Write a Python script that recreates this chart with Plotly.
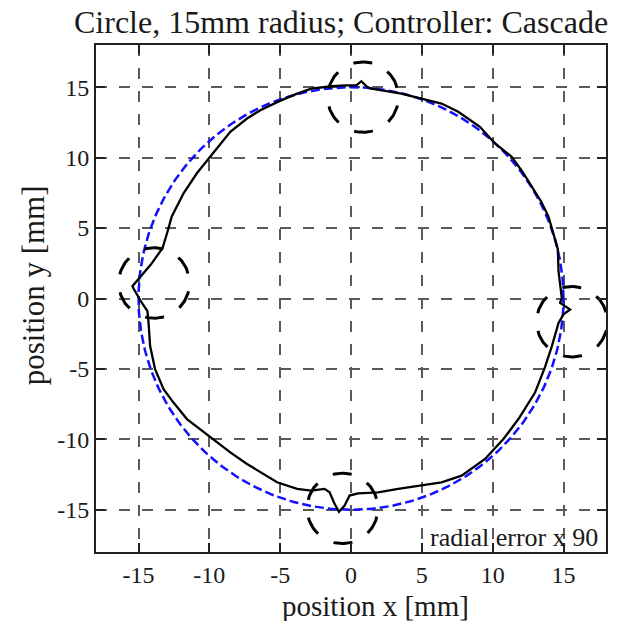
import numpy as np
import plotly.graph_objects as go

# ---- data ----
ref_radius = 15.0

traj_x = [14.88, 14.76, 14.65, 14.6, 14.25, 13.94, 13.42, 12.76, 12.1, 11.34, 10.16, 9.1, 7.57, 6.39,
          4.98, 3.56, 2.4, 1.44, 1.15, 0.73, 0.38, -0.33, -1.39, -2.8, -3.8, -5.02, -6.4, -7.34,
          -8.52, -9.94, -10.88, -11.82, -12.65, -12.95, -13.3, -14.13, -15.07, -15.43, -15.31,
          -14.84, -14.37, -14.3, -14.18, -13.83, -13.23, -12.53, -11.58, -9.7, -8.52, -7.34,
          -6.16, -5.22, -3.8, -2.81, -1.87, -1.51, -1.16, -0.85, -0.45, -0.1, 0.5, 1.91, 3.33,
          4.98, 6.39, 7.81, 9.46, 10.76, 11.82, 12.99, 13.7, 14.18, 14.65, 15.0, 15.47, 14.76, 14.88]
traj_y = [0.04, 0.99, 1.93, 3.5, 4.64, 5.82, 6.89, 7.95, 9.0, 10.07, 11.01, 12.19, 13.26, 13.84,
          14.2, 14.55, 14.75, 14.9, 15.02, 15.43, 15.14, 15.14, 15.07, 14.9, 14.55, 14.03, 13.37, 12.78,
          11.84, 10.07, 8.89, 7.47, 5.82, 4.76, 3.58, 2.41, 1.34, 0.87, 0.64,
          -0.19, -0.9, -1.61, -3.38, -5.02, -6.44, -7.39, -8.56, -9.98, -10.93, -11.75,
          -12.46, -13.05, -13.52, -13.64, -13.52, -13.76, -14.58, -15.15, -14.7, -13.99, -13.83, -13.76, -13.52,
          -13.28, -13.05, -12.58, -11.39, -9.98, -8.56, -6.68, -4.85, -3.38, -1.73, -1.13, -0.78, -0.31, 0.04]

glitch_cx = [0.85, -13.9, -0.6, 15.6]
glitch_cy = [14.3, 1.1, -14.9, -1.65]
glitch_r = 2.5

tick_vals = [-15, -10, -5, 0, 5, 10, 15]
tick_text = ["-15", "-10", "-5", "0", "5", "10", "15"]

FONT = "Liberation Serif"
TXT = "#1a1a1a"

L, R, T, B = 96, 10, 45, 69
W, H = 618, 621
PW, PH = W - L - R, H - T - B

fig = go.Figure()

# reference circle (blue dashed)
t = np.linspace(0, 2 * np.pi, 400)
fig.add_trace(go.Scatter(x=ref_radius * np.cos(t), y=ref_radius * np.sin(t), mode="lines",
                         line=dict(color="#1010ff", width=2.5, dash="9px,4px"),
                         hoverinfo="skip", showlegend=False))

# measured trajectory (black)
fig.add_trace(go.Scatter(x=traj_x, y=traj_y, mode="lines",
                         line=dict(color="black", width=2.3),
                         showlegend=False))

# dashed circles marking quadrant glitches
a = np.deg2rad(np.linspace(75, 75 + 360, 200))
for cx, cy in zip(glitch_cx, glitch_cy):
    fig.add_trace(go.Scatter(x=cx + glitch_r * np.cos(a), y=cy + glitch_r * np.sin(a), mode="lines",
                             line=dict(color="black", width=3, dash="19px,18px"),
                             hoverinfo="skip", showlegend=False))

axis_common = dict(
    range=[-18, 18], tickvals=tick_vals, ticktext=tick_text,
    showgrid=True, gridcolor="#5a5a5a", gridwidth=1.5, griddash="11px,12px",
    zeroline=False, showline=True, linecolor="#222222", linewidth=2, mirror="ticks",
    ticks="inside", ticklen=9, tickcolor="#222222", tickwidth=1.5,
    tickfont=dict(family=FONT, size=24, color=TXT),
)
fig.update_xaxes(**axis_common)
fig.update_yaxes(**axis_common)

def px2paper_x(px):
    return (px - L) / PW

def px2paper_y(py):
    return (H - B - py) / PH

fig.add_annotation(text="Circle, 15mm radius; Controller: Cascade", xref="paper", yref="paper",
                   x=px2paper_x(342), y=px2paper_y(22), xanchor="center", yanchor="middle",
                   showarrow=False, font=dict(family=FONT, size=32, color=TXT))
fig.add_annotation(text="position x [mm]", xref="paper", yref="paper",
                   x=px2paper_x(377), y=px2paper_y(606), xanchor="center", yanchor="middle",
                   showarrow=False, borderpad=0, font=dict(family=FONT, size=29, color=TXT))
fig.add_annotation(text="position y [mm]", xref="paper", yref="paper",
                   x=px2paper_x(33), y=px2paper_y(285), xanchor="center", yanchor="middle",
                   textangle=-90, showarrow=False, font=dict(family=FONT, size=31, color=TXT))
fig.add_annotation(text="radial error x 90", xref="paper", yref="paper",
                   x=px2paper_x(602), y=px2paper_y(537), xanchor="right", yanchor="middle",
                   showarrow=False, font=dict(family=FONT, size=26, color=TXT))

fig.update_layout(
    width=W, height=H,
    margin=dict(l=L, r=R, t=T, b=B),
    paper_bgcolor="white", plot_bgcolor="white",
    showlegend=False,
)

fig.write_html("out.html")
